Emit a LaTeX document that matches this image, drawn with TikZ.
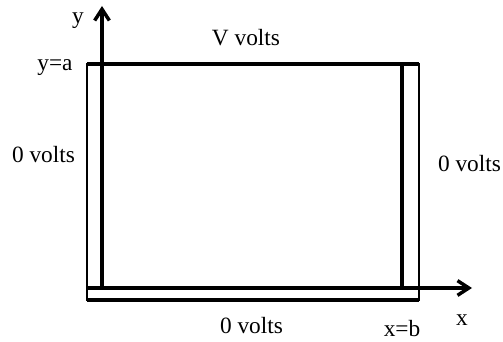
\documentclass[tikz,border=0pt]{standalone}
\usepackage{fontspec}
\setmainfont{Liberation Serif}
\usetikzlibrary{arrows.meta}
\tikzset{
  wall/.style={line width=1.7pt},
  plate/.style={line width=2.6pt},
  axis/.style={line width=2.6pt, -{Straight Barb[length=8.5pt,width=11pt]}},
  lbl/.style={inner sep=0pt, font=\fontsize{17.5}{20}\selectfont}
}
\begin{document}
\begin{tikzpicture}[x=0.75pt, y=-0.75pt]
  \useasboundingbox (0,0) rectangle (503,342);

  % outer box
  \coordinate (tl) at (87,64);
  \coordinate (tr) at (419,64);
  \coordinate (br) at (419,300);
  \coordinate (bl) at (87,300);
  \draw[wall] (tl) -- (tr) -- (br) -- (bl) -- cycle;

  % inner plates
  \coordinate (o) at (102,288);
  \coordinate (xl) at (87,288);
  \coordinate (rt) at (402,64);
  \coordinate (rb) at (402,288);
  \draw[plate] (tl) -- (tr);
  \draw[plate] (bl) -- (br);
  \draw[plate] (rt) -- (rb);

  % axes
  \coordinate (ytip) at (102,6);
  \coordinate (xtip) at (472,288);
  \draw[axis] (o) -- (ytip);
  \draw[axis] (xl) -- (xtip);

  % labels
  \node[lbl] (ylab) at (78,21) {y};
  \node[lbl] (xlab) at (462,320) {x};
  \node[lbl] (ya) at (55,67.5) {y=a};
  \node[lbl] (xb) at (402,329) {x=b};
  \node[lbl] (vtop) at (246,38) {V volts};
  \node[lbl] (vleft) at (43.5,155) {0 volts};
  \node[lbl] (vright) at (469.5,164) {0 volts};
  \node[lbl] (vbot) at (251.5,326) {0 volts};
\end{tikzpicture}
\end{document}
